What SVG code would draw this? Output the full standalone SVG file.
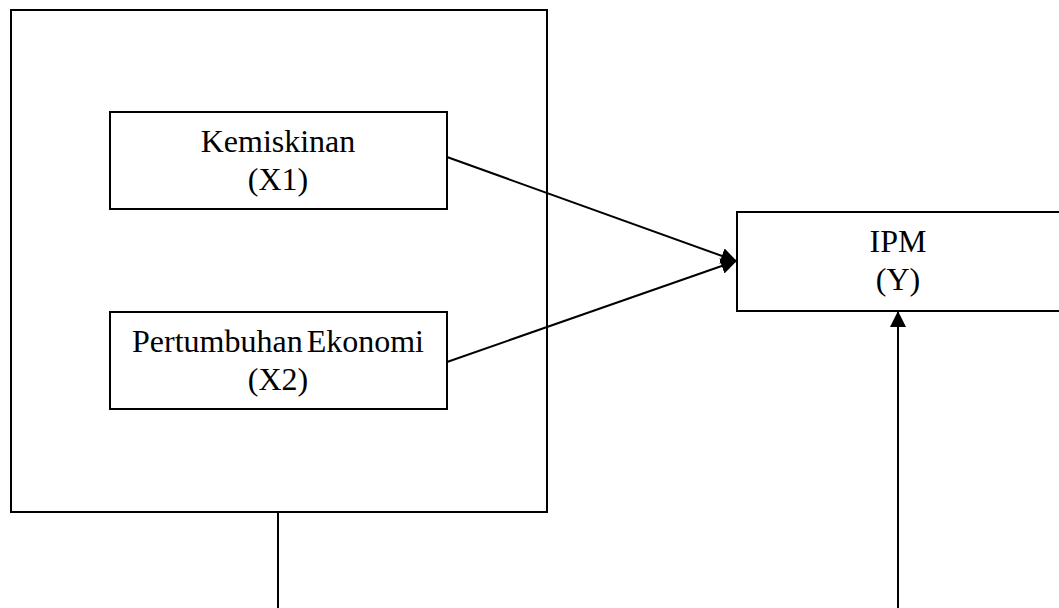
<svg xmlns="http://www.w3.org/2000/svg" width="1059" height="608" viewBox="0 0 1059 608">
<style>
.box{fill:#fff;stroke:#000;stroke-width:2}
.t{font-family:"Liberation Serif","Times New Roman",serif;font-size:32px;fill:#000;text-anchor:middle}
.c{stroke:#000;stroke-width:2;fill:none}
</style>
<defs>
<marker id="ah" markerWidth="8" markerHeight="8" refX="7.5" refY="4" orient="auto" markerUnits="strokeWidth">
<path d="M0,0 L8,4 L0,8 Z" fill="#000"/>
</marker>
</defs>
<rect width="1059" height="608" fill="#fff"/>
<g id="group">
<rect class="box" x="11" y="10" width="536" height="502"/>
</g>
<g id="x1">
<rect class="box" x="110" y="112" width="337" height="97"/>
<text class="t" x="278" y="152">Kemiskinan</text>
<text class="t" x="278" y="190">(X1)</text>
</g>
<g id="x2">
<rect class="box" x="110" y="312" width="337" height="97"/>
<text class="t" x="278" y="352" word-spacing="-4">Pertumbuhan Ekonomi</text>
<text class="t" x="278" y="390">(X2)</text>
</g>
<g id="y">
<rect class="box" x="737" y="212" width="340" height="99"/>
<text class="t" x="898" y="252">IPM</text>
<text class="t" x="898" y="290">(Y)</text>
</g>
<g id="connectors">
<line class="c" x1="447" y1="157" x2="736" y2="261" marker-end="url(#ah)"/>
<line class="c" x1="447" y1="362" x2="736" y2="261" marker-end="url(#ah)"/>
<line class="c" x1="898" y1="608" x2="898" y2="312" marker-end="url(#ah)"/>
<line class="c" x1="278" y1="512" x2="278" y2="608"/>
</g>
</svg>
